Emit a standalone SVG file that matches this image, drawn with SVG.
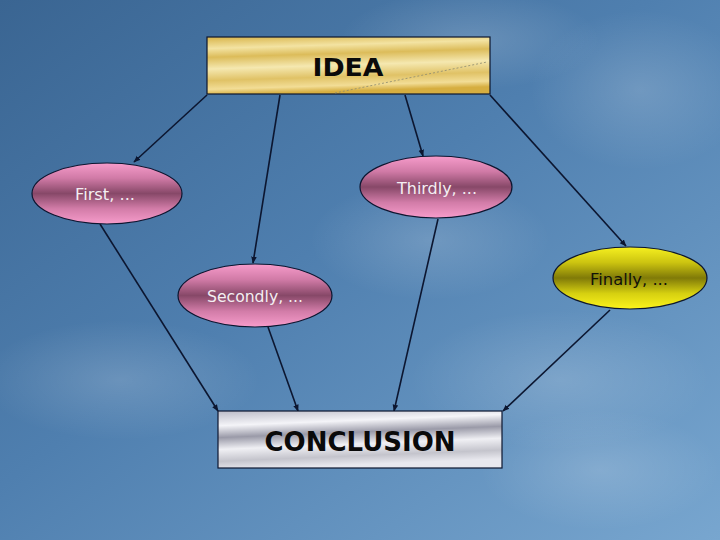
<svg xmlns="http://www.w3.org/2000/svg" width="720" height="540" viewBox="0 0 720 540">
<defs>
  <linearGradient id="sky" x1="0" y1="0" x2="1" y2="1">
    <stop offset="0" stop-color="#3a6592"/>
    <stop offset="0.45" stop-color="#4f7faf"/>
    <stop offset="1" stop-color="#78a6cf"/>
  </linearGradient>
  <radialGradient id="cloud" cx="0.5" cy="0.5" r="0.5">
    <stop offset="0" stop-color="#ffffff" stop-opacity="0.16"/>
    <stop offset="1" stop-color="#ffffff" stop-opacity="0"/>
  </radialGradient>
  <linearGradient id="gold" x1="0" y1="0" x2="0.15" y2="1">
    <stop offset="0" stop-color="#d8b44a"/>
    <stop offset="0.2" stop-color="#f3e3a2"/>
    <stop offset="0.35" stop-color="#dcbc5a"/>
    <stop offset="0.55" stop-color="#f5e8b0"/>
    <stop offset="0.75" stop-color="#e0c266"/>
    <stop offset="0.9" stop-color="#f2dd96"/>
    <stop offset="1" stop-color="#d6ae40"/>
  </linearGradient>
  <linearGradient id="silver" x1="0" y1="0" x2="0.2" y2="1">
    <stop offset="0" stop-color="#bcbcc8"/>
    <stop offset="0.25" stop-color="#f4f4f8"/>
    <stop offset="0.45" stop-color="#9a9aa8"/>
    <stop offset="0.65" stop-color="#f0f0f4"/>
    <stop offset="0.85" stop-color="#c4c4cc"/>
    <stop offset="1" stop-color="#e8e8ee"/>
  </linearGradient>
  <linearGradient id="pink" x1="0" y1="0" x2="0" y2="1">
    <stop offset="0" stop-color="#f79ccb"/>
    <stop offset="0.25" stop-color="#d07aa6"/>
    <stop offset="0.5" stop-color="#874868"/>
    <stop offset="0.75" stop-color="#d27ca8"/>
    <stop offset="1" stop-color="#f79ccb"/>
  </linearGradient>
  <linearGradient id="yellow" x1="0" y1="0" x2="0" y2="1">
    <stop offset="0" stop-color="#f6f020"/>
    <stop offset="0.25" stop-color="#ccc410"/>
    <stop offset="0.5" stop-color="#807a08"/>
    <stop offset="0.75" stop-color="#d6d010"/>
    <stop offset="1" stop-color="#fcf41c"/>
  </linearGradient>
  <marker id="arr" viewBox="0 0 10 10" refX="9" refY="5" markerWidth="7" markerHeight="7" orient="auto" markerUnits="userSpaceOnUse">
    <path d="M0,1 L10,5 L0,9 z" fill="#0c1630"/>
  </marker>
  <style>
    .node { stroke: #0c1630; stroke-width: 1.2; }
    .conn line { stroke: #0c1630; stroke-width: 1.6; marker-end: url(#arr); }
    .big { font-family: "DejaVu Sans", Verdana, sans-serif; font-weight: bold; fill: #0a0a0a; text-anchor: middle; }
    .lbl { font-family: "DejaVu Sans", Verdana, sans-serif; font-size: 16px; text-anchor: middle; }
  </style>
</defs>

<rect x="0" y="0" width="720" height="540" fill="url(#sky)"/>
<g id="clouds">
  <ellipse cx="470" cy="40" rx="130" ry="50" fill="url(#cloud)"/>
  <ellipse cx="640" cy="90" rx="110" ry="80" fill="url(#cloud)"/>
  <ellipse cx="120" cy="380" rx="140" ry="60" fill="url(#cloud)"/>
  <ellipse cx="560" cy="380" rx="150" ry="70" fill="url(#cloud)"/>
  <ellipse cx="430" cy="240" rx="120" ry="60" fill="url(#cloud)"/>
  <ellipse cx="600" cy="470" rx="120" ry="60" fill="url(#cloud)"/>
</g>

<g id="connectors" class="conn">
  <line x1="207" y1="95" x2="134" y2="162"/>
  <line x1="280" y1="95" x2="253" y2="263"/>
  <line x1="405" y1="95" x2="423" y2="156"/>
  <line x1="490" y1="95" x2="626" y2="246"/>
  <line x1="100" y1="224" x2="218" y2="411"/>
  <line x1="268" y1="327" x2="298" y2="411"/>
  <line x1="438" y1="219" x2="394" y2="411"/>
  <line x1="610" y1="310" x2="503" y2="411"/>
</g>

<g id="idea">
  <rect class="node" x="207" y="37" width="283" height="57" fill="url(#gold)"/>
  <path d="M335,93 L487,62" stroke="#8c8a70" stroke-width="0.8" stroke-dasharray="2,2" fill="none"/>
  <text class="big" x="348" y="76" font-size="25" textLength="71" lengthAdjust="spacingAndGlyphs">IDEA</text>
</g>

<g id="first">
  <ellipse class="node" cx="107" cy="193.5" rx="75" ry="30.5" fill="url(#pink)"/>
  <text class="lbl" x="105" y="200" fill="#f4eef2" textLength="60" lengthAdjust="spacingAndGlyphs">First, ...</text>
</g>

<g id="thirdly">
  <ellipse class="node" cx="436" cy="187" rx="76" ry="31" fill="url(#pink)"/>
  <text class="lbl" x="437" y="194" fill="#f4eef2" textLength="80" lengthAdjust="spacingAndGlyphs">Thirdly, ...</text>
</g>

<g id="secondly">
  <ellipse class="node" cx="255" cy="295.5" rx="77" ry="31.5" fill="url(#pink)"/>
  <text class="lbl" x="255" y="302" fill="#f4eef2" textLength="96" lengthAdjust="spacingAndGlyphs">Secondly, ...</text>
</g>

<g id="finally">
  <ellipse class="node" cx="630" cy="278" rx="77" ry="31" fill="url(#yellow)"/>
  <text class="lbl" x="629" y="285" fill="#121208" textLength="78" lengthAdjust="spacingAndGlyphs">Finally, ...</text>
</g>

<g id="conclusion">
  <rect class="node" x="218" y="411" width="284" height="57" fill="url(#silver)"/>
  <text class="big" x="360" y="451" font-size="27" textLength="191" lengthAdjust="spacingAndGlyphs">CONCLUSION</text>
</g>
</svg>
